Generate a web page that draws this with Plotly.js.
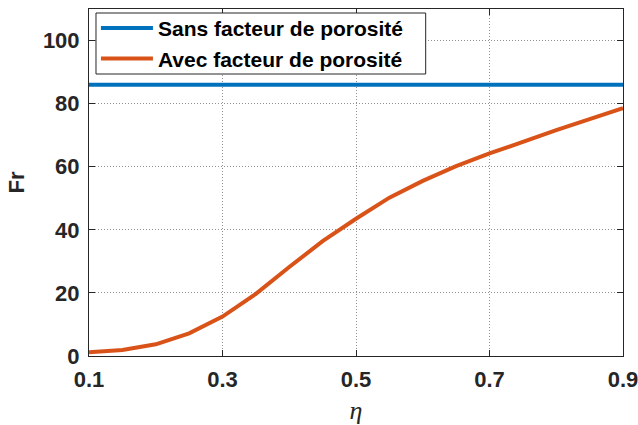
<!DOCTYPE html>
<html>
<head>
<meta charset="utf-8">
<script src="https://cdn.plot.ly/plotly-3.0.1.min.js"></script>
<style>html,body{margin:0;padding:0;background:#fff;}#chart{width:638px;height:425px;}</style>
</head>
<body>
<div id="chart"></div>
<script>
const eta = [0.1, 0.15, 0.2, 0.25, 0.3, 0.35, 0.4, 0.45, 0.5, 0.55, 0.6, 0.65, 0.7, 0.75, 0.8, 0.85, 0.9];
const frAvec = [1.2, 1.9, 3.7, 7.2, 12.5, 19.7, 28.2, 36.4, 43.5, 50.2, 55.5, 60.2, 64.2, 68.0, 71.6, 75.1, 78.6];
const frSansValue = 86;
const frSans = eta.map(() => frSansValue);
const nameSans = "Sans facteur de porosité";
const nameAvec = "Avec facteur de porosité";
const xTicks = [0.1, 0.3, 0.5, 0.7, 0.9];
const yTicks = [0, 20, 40, 60, 80, 100];

const traces = [
  {x: eta, y: frSans, name: nameSans, mode: 'lines', line: {color: '#0072BD', width: 4}},
  {x: eta, y: frAvec, name: nameAvec, mode: 'lines', line: {color: '#D95319', width: 4}}
];

const axisCommon = {
  showline: true, linecolor: '#262626', linewidth: 1, mirror: 'ticks',
  ticks: 'inside', ticklen: 6, tickcolor: '#262626',
  showgrid: true, gridcolor: 'rgba(38,38,38,0.5)', griddash: '1px,2px', gridwidth: 1,
  zeroline: false,
  tickfont: {family: 'Liberation Sans, Arial, sans-serif', size: 22, color: '#262626', weight: 'bold'}
};

// legend frame box in plot-area fractions (style only)
const boxX0 = 7 / 534.5, boxX1 = 337 / 534.5, boxY0 = 282 / 347, boxY1 = 343 / 347;

const layout = {
  width: 638, height: 425,
  margin: {l: 89, r: 15, t: 9, b: 69, autoexpand: false},
  paper_bgcolor: '#fff', plot_bgcolor: '#fff',
  showlegend: true,
  legend: {
    x: 0.013, y: 1.003, xanchor: 'left', yanchor: 'top',
    bgcolor: 'rgba(0,0,0,0)', borderwidth: 0,
    itemwidth: 52,
    font: {family: 'Liberation Sans, Arial, sans-serif', size: 21, color: '#000', weight: 'bold'},
    tracegroupgap: 0
  },
  shapes: [{
    type: 'rect', xref: 'x domain', yref: 'y domain',
    x0: boxX0, x1: boxX1, y0: boxY0, y1: boxY1,
    fillcolor: '#fff', line: {color: '#262626', width: 1}, layer: 'above'
  }],
  xaxis: Object.assign({}, axisCommon, {
    range: [0.1, 0.9], tickvals: xTicks, ticktext: xTicks.map(v => v.toFixed(1)),
    ticklabelstandoff: 4, ticklabeloverflow: 'allow',
    title: {text: 'η', font: {family: 'Liberation Serif, Times New Roman, serif', size: 26, color: '#262626', style: 'italic'}, standoff: 18}
  }),
  yaxis: Object.assign({}, axisCommon, {
    range: [0, 110], tickvals: yTicks, ticktext: yTicks.map(String),
    ticklabelstandoff: 4,
    title: {text: 'Fr', font: {family: 'Liberation Sans, Arial, sans-serif', size: 22, color: '#262626', weight: 'bold'}, standoff: 12}
  })
};

Plotly.newPlot('chart', traces, layout, {displayModeBar: false, staticPlot: true});
</script>
</body>
</html>
